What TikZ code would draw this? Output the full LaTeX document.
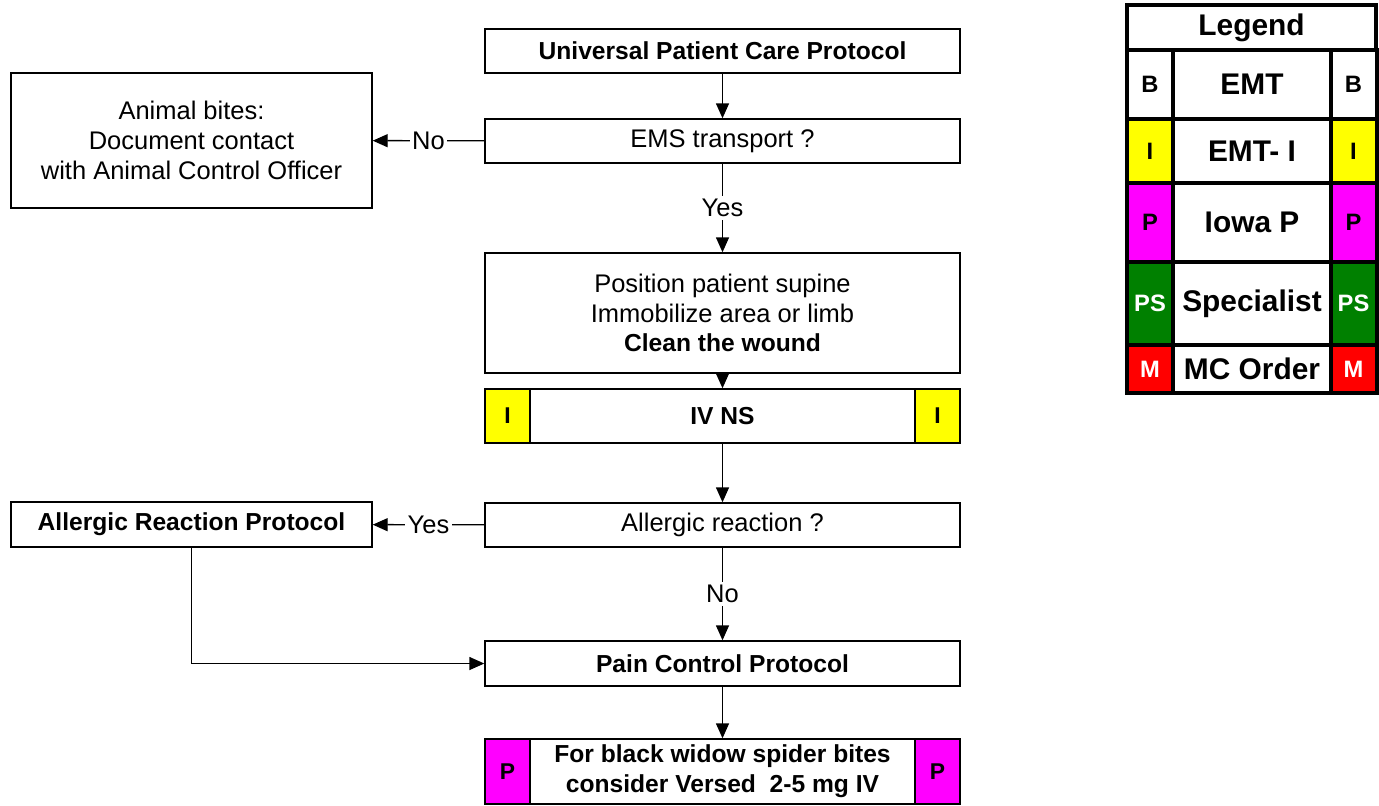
\documentclass[tikz,border=0pt]{standalone}
\usepackage{fontspec}
\setmainfont{Liberation Sans}
\usetikzlibrary{arrows.meta, positioning}
\definecolor{levelyellow}{RGB}{255, 255, 0}
\definecolor{levelmagenta}{RGB}{255, 0, 255}
\definecolor{levelgreen}{RGB}{0, 128, 0}
\definecolor{levelred}{RGB}{255, 0, 0}

\begin{document}
\begin{tikzpicture}[
    stepbox/.style={rectangle, draw=black, fill=white, thick, minimum width=9.5cm, minimum height=0.88cm, align=center, font=\fontsize{14.5}{17}\selectfont, inner sep=2pt},
    boldbox/.style={stepbox, font=\fontsize{14}{17}\selectfont\bfseries},
    sidebox/.style={rectangle, draw=black, thick, minimum width=0.9cm, font=\fontsize{13}{15}\selectfont\bfseries},
    flow/.style={thick, -{Triangle[length=0.3cm, width=0.26cm]}},
    answer/.style={fill=white, font=\fontsize{14.5}{17}\selectfont, inner sep=1.5pt},
    legcell/.style={rectangle, draw=black, line width=2.3pt, fill=white, minimum width=3.16cm, font=\fontsize{17}{20}\selectfont\bfseries, inner sep=0pt},
    legtag/.style={legcell, minimum width=0.92cm, font=\fontsize{13.5}{15}\selectfont\bfseries}
]
    \useasboundingbox (0,0) rectangle (27.58,-16.1);

    % Main flow
    \node[boldbox] (univ) at (14.45,-1.02) {Universal Patient Care Protocol};
    \node[stepbox] (ems) at (14.45,-2.82) {EMS transport ?};
    \node[stepbox, minimum height=2.4cm] (position) at (14.45,-6.26) {
        Position patient supine\\
        Immobilize area or limb\\
        {\fontsize{14}{17}\selectfont\bfseries Clean the wound}
    };
    \node[boldbox, minimum height=1.08cm] (ivns) at (14.45,-8.32) {IV NS};
    \node[sidebox, fill=levelyellow, minimum height=1.08cm] (ivL) at (10.15,-8.32) {I};
    \node[sidebox, fill=levelyellow, minimum height=1.08cm] (ivR) at (18.75,-8.32) {I};
    \node[stepbox] (allergic) at (14.45,-10.5) {Allergic reaction ?};
    \node[boldbox, minimum height=0.9cm] (pain) at (14.45,-13.27) {Pain Control Protocol};
    \node[boldbox, minimum height=1.3cm] (widow) at (14.45,-15.43) {
        For black widow spider bites\\
        consider Versed \ 2-5 mg IV
    };
    \node[sidebox, fill=levelmagenta, minimum height=1.3cm] (widowL) at (10.15,-15.43) {P};
    \node[sidebox, fill=levelmagenta, minimum height=1.3cm] (widowR) at (18.75,-15.43) {P};

    % Side boxes
    \node[stepbox, minimum width=7.22cm, minimum height=2.7cm] (animal) at (3.83,-2.81) {
        Animal bites:\\
        Document contact\\
        with Animal Control Officer
    };
    \node[boldbox, minimum width=7.22cm, minimum height=0.9cm] (arp) at (3.83,-10.49) {Allergic Reaction Protocol};

    % Connectors
    \draw[flow] (univ) -- (ems);
    \draw[flow] (ems) -- node[answer] {Yes} (position);
    \draw[flow] (ems) -- node[answer] {No} (animal);
    \draw[flow] (position) -- (ivns);
    \draw[flow] (ivns) -- (allergic);
    \draw[flow] (allergic) -- node[answer] {Yes} (arp);
    \draw[flow] (allergic) -- node[answer] {No} (pain);
    \draw[flow] (arp.south) |- (pain.west);
    \draw[flow] (pain) -- (widow);

    % Legend
    \node[legcell, minimum width=4.98cm, minimum height=0.9cm] (lgTitle) at (25.03,-0.55) {Legend};

    \node[legtag, minimum height=1.38cm] (lgBl) at (23.0,-1.69) {B};
    \node[legcell, minimum height=1.38cm] (lgEmt) at (25.04,-1.69) {EMT};
    \node[legtag, minimum height=1.38cm] (lgBr) at (27.07,-1.69) {B};

    \node[legtag, fill=levelyellow, minimum height=1.28cm] (lgIl) at (23.0,-3.02) {I};
    \node[legcell, minimum height=1.28cm] (lgEmtI) at (25.04,-3.02) {EMT- I};
    \node[legtag, fill=levelyellow, minimum height=1.28cm] (lgIr) at (27.07,-3.02) {I};

    \node[legtag, fill=levelmagenta, minimum height=1.58cm] (lgPl) at (23.0,-4.45) {P};
    \node[legcell, minimum height=1.58cm] (lgIowa) at (25.04,-4.45) {Iowa P};
    \node[legtag, fill=levelmagenta, minimum height=1.58cm] (lgPr) at (27.07,-4.45) {P};

    \node[legtag, fill=levelgreen, text=white, minimum height=1.66cm] (lgPSl) at (23.0,-6.07) {PS};
    \node[legcell, minimum height=1.66cm] (lgSpec) at (25.04,-6.07) {Specialist};
    \node[legtag, fill=levelgreen, text=white, minimum height=1.66cm] (lgPSr) at (27.07,-6.07) {PS};

    \node[legtag, fill=levelred, text=white, minimum height=0.96cm] (lgMl) at (23.0,-7.38) {M};
    \node[legcell, minimum height=0.96cm] (lgMc) at (25.04,-7.38) {MC Order};
    \node[legtag, fill=levelred, text=white, minimum height=0.96cm] (lgMr) at (27.07,-7.38) {M};

\end{tikzpicture}
\end{document}
